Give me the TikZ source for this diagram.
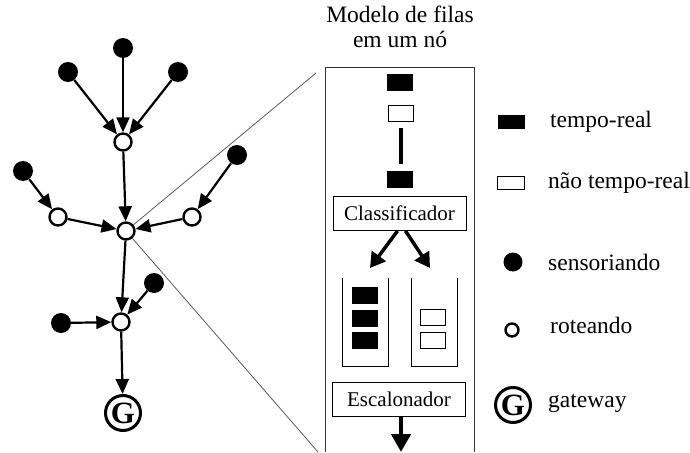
\documentclass[tikz,border=0pt]{standalone}
\usepackage{fontspec}
\setmainfont{Liberation Serif}
\usetikzlibrary{arrows.meta}

\tikzset{
  sensor/.style={circle, fill=black, inner sep=0pt, minimum size=20pt},
  router/.style={circle, draw, fill=white, line width=2.4pt, inner sep=0pt, minimum size=17pt},
  gw/.style={circle, draw, fill=white, line width=3pt, inner sep=0pt, minimum size=35pt,
    font=\fontsize{31}{31}\selectfont\bfseries},
  link/.style={line width=2.2pt, -{Triangle[length=15pt,width=13pt]}},
  zoomline/.style={gray!70!black, line width=0.8pt},
  rt/.style={rectangle, fill=black, inner sep=0pt, minimum width=26pt, minimum height=17pt},
  nrt/.style={rectangle, draw, fill=white, line width=0.8pt, inner sep=0pt, minimum width=25pt, minimum height=16pt},
  stage/.style={rectangle, draw, line width=0.8pt, inner sep=0pt, minimum width=133pt, minimum height=34pt,
    font=\fontsize{21}{24}\selectfont},
  flow/.style={line width=3.5pt, -{Triangle[length=15pt,width=17pt]}},
  lbl/.style={anchor=west, inner sep=0pt, font=\fontsize{23.5}{26}\selectfont}
}

\begin{document}
\begin{tikzpicture}[x=1pt, y=-1pt]
  \useasboundingbox (0,0) rectangle (690,452);

  \node[router] (r4) at (126,231) {};
  \draw[zoomline] (r4) -- (316,73);
  \draw[zoomline] (r4) -- (318,452);

  \node[sensor] (s1) at (123,48) {};
  \node[sensor] (s2) at (68,72) {};
  \node[sensor] (s3) at (178,72) {};
  \node[router] (r1) at (123,142) {};
  \node[sensor] (s4) at (23,171) {};
  \node[router] (r2) at (58,217) {};
  \node[sensor] (s5) at (237,155) {};
  \node[router] (r3) at (192,217) {};
  \node[sensor] (s6) at (154,283) {};
  \node[sensor] (s7) at (61,323) {};
  \node[router] (r5) at (121,322) {};
  \node[gw] (g) at (123,413) {G};

  \draw[link] (s1) -- (r1);
  \draw[link] (s2) -- (r1);
  \draw[link] (s3) -- (r1);
  \draw[link] (r1) -- (r4);
  \draw[link] (s4) -- (r2);
  \draw[link] (r2) -- (r4);
  \draw[link] (s5) -- (r3);
  \draw[link] (r3) -- (r4);
  \draw[link] (r4) -- (r5);
  \draw[link] (s6) -- (r5);
  \draw[link] (s7) -- (r5);
  \draw[link] (r5) -- (g);

  \node[align=center, inner sep=0pt, font=\fontsize{23.5}{25}\selectfont] (title) at (400,27)
    {Modelo de filas\\em um nó};
  \draw[line width=1pt, gray!40!black] (325,452) -- (325,67) -- (474,67) -- (474,452);

  \node[rt] (p1) at (400,82.5) {};
  \node[nrt] (p2) at (400.5,113.5) {};
  \node[rt] (p3) at (400,179) {};
  \draw[line width=4pt] (401,128) -- (401,164);

  \node[stage] (cls) at (399.5,213.5) {Classificador};
  \coordinate (ql) at (370,268);
  \coordinate (qr) at (430,268);
  \draw[flow] ([xshift=-2pt]cls.south) -- (ql);
  \draw[flow] ([xshift=6pt]cls.south) -- (qr);

  \draw[line width=0.8pt] (342,278) -- (342,366) -- (388,366) -- (388,278);
  \draw[line width=0.8pt] (411,278) -- (411,366) -- (457,366) -- (457,278);
  \node[rt] (a1) at (365,295) {};
  \node[rt] (a2) at (365,318) {};
  \node[rt] (a3) at (365,340.5) {};
  \node[nrt] (b1) at (433,317.5) {};
  \node[nrt] (b2) at (433,340) {};

  \node[stage] (esc) at (399,399) {Escalonador};
  \coordinate (out) at (401,452);
  \draw[line width=4.5pt, -{Triangle[length=18pt,width=19pt]}] ([xshift=2pt]esc.south) -- (out);

  \node[rt, minimum width=27pt, minimum height=14pt] (k1) at (511,122) {};
  \node[lbl] (t1) at (550,122) {tempo-real};
  \node[nrt, minimum width=27pt, minimum height=13pt] (k2) at (511,183) {};
  \node[lbl] (t2) at (548,183) {não tempo-real};
  \node[sensor, minimum size=19pt] (k3) at (513,262) {};
  \node[lbl] (t3) at (548,262) {sensoriando};
  \node[router, minimum size=13pt] (k4) at (512,330) {};
  \node[lbl] (t4) at (550,325) {roteando};
  \node[gw] (k5) at (513,405) {G};
  \node[lbl] (t5) at (548,403) {gateway};
\end{tikzpicture}
\end{document}
